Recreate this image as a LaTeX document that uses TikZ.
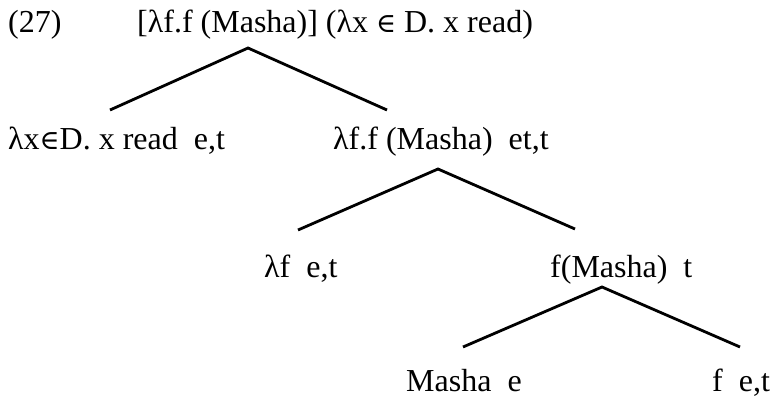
\documentclass[tikz,border=0pt]{standalone}
\usepackage{fontspec}
\setmainfont{Liberation Serif}
\newfontfamily\symfont{DejaVu Serif}
\newcommand{\elm}{{\symfont\fontsize{27}{30}\selectfont ∈}}
\begin{document}
\begin{tikzpicture}[x=1pt,y=-1pt,
  lab/.style={anchor=base west,inner sep=0pt,font=\fontsize{32}{38}\selectfont},
  edge/.style={line width=2.8pt,line cap=butt,line join=miter}]
\useasboundingbox (0,0) rectangle (773,397);
\node[lab] (num) at (8,32) {(27)};
\node[lab] (root) at (137,32) {[λf.f (Masha)] (λx \elm{} D. x read)};
\node[lab] (l1) at (8,149) {λx\elm D. x read\ \ e,t};
\node[lab] (r1) at (333,149) {λf.f (Masha)\ \ et,t};
\node[lab] (l2) at (264,277) {λf\ \ e,t};
\node[lab] (r2) at (550,277) {f(Masha)\ \ t};
\node[lab] (l3) at (406,391) {Masha\ \ e};
\node[lab] (r3) at (712,391) {f\ \ e,t};
\coordinate (a0) at (248,48);
\coordinate (a0l) at (110,110);
\coordinate (a0r) at (387,110);
\coordinate (a1) at (438,169);
\coordinate (a1l) at (298,230);
\coordinate (a1r) at (575,229);
\coordinate (a2) at (602,287);
\coordinate (a2l) at (463,347);
\coordinate (a2r) at (740,347);
\draw[edge] (a0l) -- (a0) -- (a0r);
\draw[edge] (a1l) -- (a1) -- (a1r);
\draw[edge] (a2l) -- (a2) -- (a2r);
\end{tikzpicture}
\end{document}
